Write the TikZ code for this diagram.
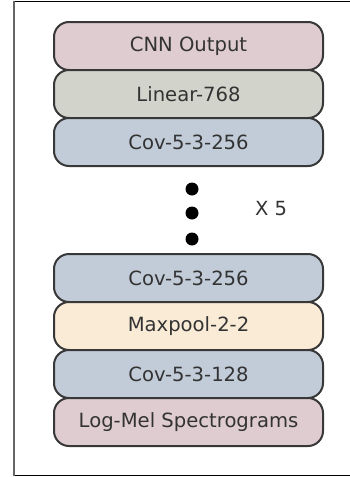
\documentclass[tikz,border=0pt]{standalone}
\usepackage{fontspec}
\setmainfont{DejaVu Sans}
\definecolor{edge}{HTML}{383838}
\definecolor{txt}{HTML}{333333}
\definecolor{pinkfill}{HTML}{DFCCD0}
\definecolor{greyfill}{HTML}{D2D4CC}
\definecolor{bluefill}{HTML}{C2CCD9}
\definecolor{creamfill}{HTML}{FAEBD7}
\begin{document}
\begin{tikzpicture}[x=1pt,y=-1pt,
  layer/.style={draw=edge, line width=2pt, rounded corners=15pt,
    minimum width=269pt, minimum height=48pt, inner sep=0pt,
    text=txt, font=\fontsize{19.6}{22}\selectfont},
  dot/.style={circle, fill=black, minimum size=13pt, inner sep=0pt}]
\useasboundingbox (0,0) rectangle (350,477);
% frame
\draw[black, line width=1pt] (14,1.5) -- (350,1.5);
\draw[black, line width=1pt] (14,475.5) -- (350,475.5);
\draw[gray!80!black, line width=2pt] (13.5,1) -- (13.5,476);
% upper stack
\node[layer, fill=pinkfill]  (out)  at (188.5,46)  {CNN Output};
\node[layer, fill=greyfill]  (lin)  at (188.5,94)  {Linear-768};
\node[layer, fill=bluefill]  (c3)   at (188.5,142) {Cov-5-3-256};
% repetition marks
\node[dot] (d1) at (192,189) {};
\node[dot] (d2) at (192,213) {};
\node[dot] (d3) at (192,239) {};
\node[text=txt, font=\fontsize{19.5}{22}\selectfont] (rep) at (271,209) {X 5};
% lower stack
\node[layer, fill=bluefill]  (c2)   at (188.5,278) {Cov-5-3-256};
\node[layer, fill=creamfill] (pool) at (188.5,326) {Maxpool-2-2};
\node[layer, fill=bluefill]  (c1)   at (188.5,374) {Cov-5-3-128};
\node[layer, fill=pinkfill]  (mel)  at (188.5,422) {Log-Mel Spectrograms};
\end{tikzpicture}
\end{document}
